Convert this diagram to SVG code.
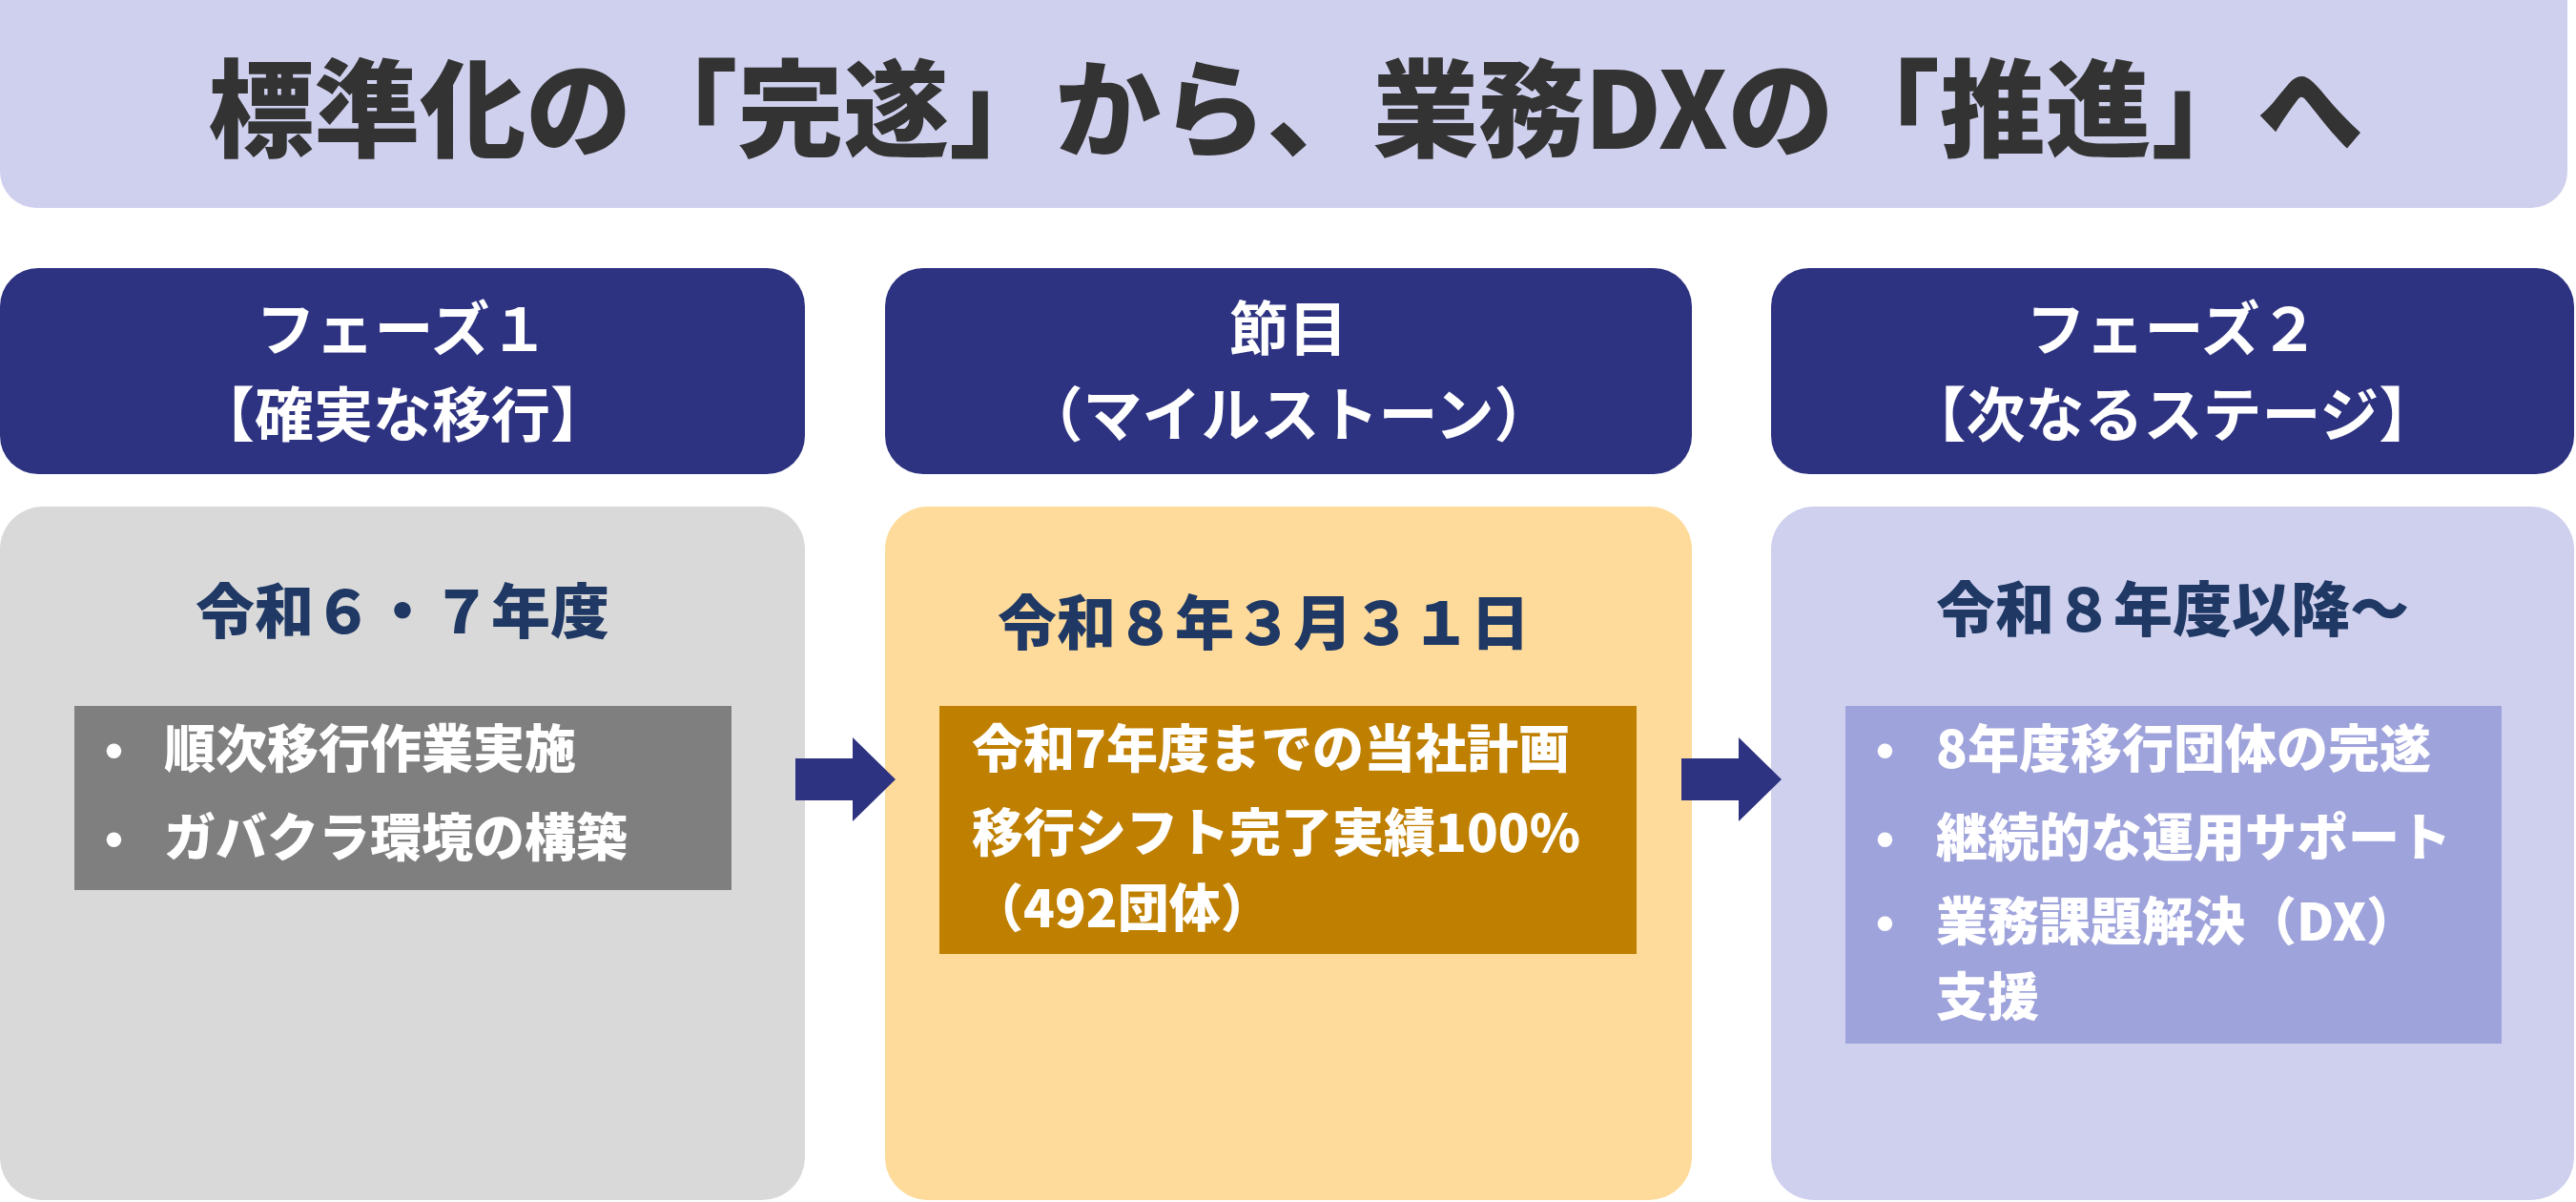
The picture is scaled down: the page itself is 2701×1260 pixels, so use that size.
<svg xmlns="http://www.w3.org/2000/svg" width="2701" height="1260" viewBox="0 0 2701 1260">
<style>
text{font-family:"Noto Sans CJK JP","Liberation Sans",sans-serif;}
.title{font-size:111px;font-weight:900;fill:#333333;text-anchor:middle;}
.hdr{fill:#2E3381;}
.htxt{font-size:62px;font-weight:700;fill:#FFFFFF;text-anchor:middle;}
.sub{font-size:62px;font-weight:900;fill:#1F3864;}
.item{font-size:54px;font-weight:900;fill:#FFFFFF;}
.dot{font-family:"Liberation Sans",sans-serif;font-size:54px;font-weight:700;fill:#FFFFFF;}
.arrow{fill:#2E3381;}
</style>
<g id="title">
<rect x="0" y="-40" width="2692" height="258" rx="38" fill="#CFD0EE"/>
<text class="title" x="1348" y="156">標準化の「完遂」から、業務DXの「推進」へ</text>
</g>
<g id="phase1">
<rect class="hdr" x="0" y="281" width="844" height="216" rx="40"/>
<text class="htxt" x="422" y="368">フェーズ１</text>
<text class="htxt" x="422" y="458">【確実な移行】</text>
<rect x="0" y="531" width="844" height="727" rx="45" fill="#D9D9D9"/>
<text class="sub" x="422" y="664" text-anchor="middle">令和６・７年度</text>
<rect x="78" y="740" width="689" height="193" fill="#7F7F7F"/>
<text class="dot" x="110" y="805">•</text>
<text class="item" x="172" y="805">順次移行作業実施</text>
<text class="dot" x="110" y="898">•</text>
<text class="item" x="172" y="898">ガバクラ環境の構築</text>
</g>
<g id="milestone">
<rect class="hdr" x="928" y="281" width="846" height="216" rx="40"/>
<text class="htxt" x="1351" y="368">節目</text>
<text class="htxt" x="1351" y="458">（マイルストーン）</text>
<rect x="928" y="531" width="846" height="727" rx="45" fill="#FEDB9B"/>
<text class="sub" x="1046" y="676">令和８年３月３１日</text>
<rect x="985" y="740" width="731" height="260" fill="#BF7F00"/>
<text class="item" x="1019" y="805">令和7年度までの当社計画</text>
<text class="item" x="1019" y="893">移行シフト完了実績100%<tspan x="1019" dy="79">（492団体）</tspan></text>
</g>
<g id="phase2">
<rect class="hdr" x="1857" y="281" width="842" height="216" rx="40"/>
<text class="htxt" x="2278" y="368">フェーズ２</text>
<text class="htxt" x="2278" y="458">【次なるステージ】</text>
<rect x="1857" y="531" width="842" height="727" rx="45" fill="#CFD0EE"/>
<text class="sub" x="2278" y="662" text-anchor="middle">令和８年度以降～</text>
<rect x="1935" y="740" width="688" height="354" fill="#9FA3DB"/>
<text class="dot" x="1967" y="805">•</text>
<text class="item" x="2030" y="805">8年度移行団体の完遂</text>
<text class="dot" x="1967" y="898">•</text>
<text class="item" x="2030" y="898">継続的な運用サポート</text>
<text class="dot" x="1967" y="986">•</text>
<text class="item" x="2030" y="986">業務課題解決（DX）<tspan x="2030" dy="79">支援</tspan></text>
</g>
<g id="connectors">
<polygon class="arrow" points="834,795 894,795 894,773 939,817 894,861 894,839 834,839"/>
<polygon class="arrow" points="1763,795 1823,795 1823,773 1868,817 1823,861 1823,839 1763,839"/>
</g>
</svg>
